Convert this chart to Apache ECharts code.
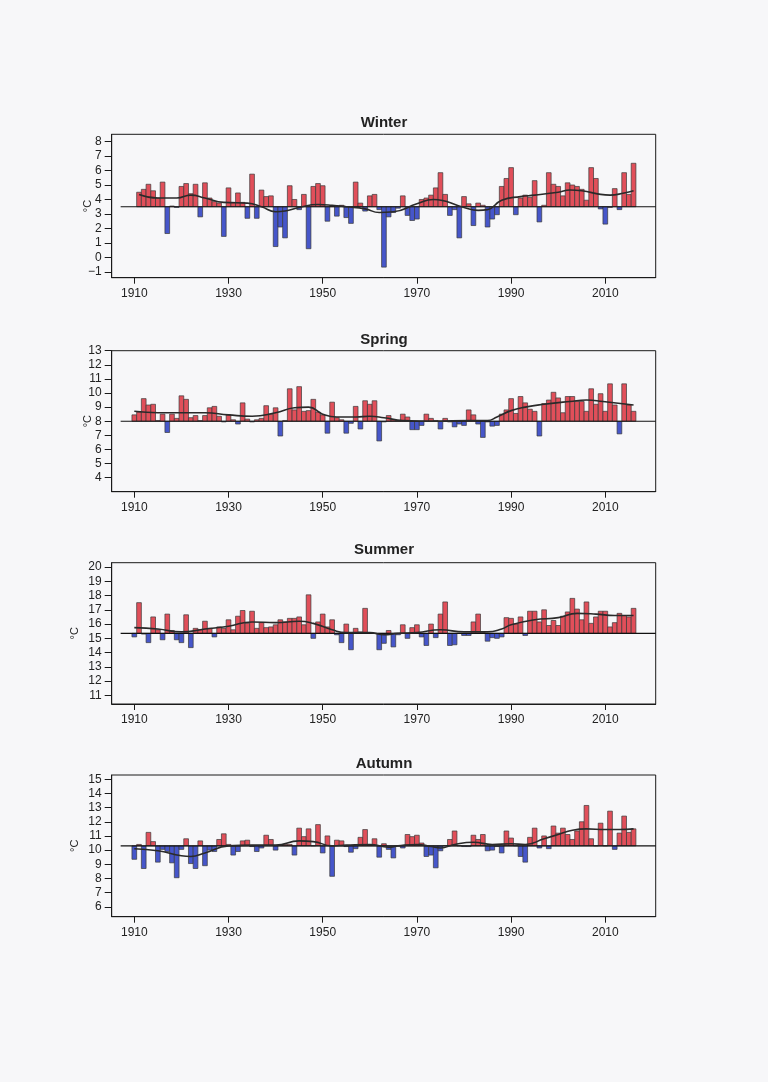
<!DOCTYPE html>
<html><head><meta charset="utf-8">
<script src="https://cdn.jsdelivr.net/npm/echarts@6/dist/echarts.min.js"></script>
<style>html,body{margin:0;padding:0;background:#f7f7f9;} #c{width:768px;height:1082px;}</style>
</head><body><div id="c"></div>
<script>
const seasonNames = ['Winter', 'Spring', 'Summer', 'Autumn'];
const winterStartYear = 1911;
const otherStartYear = 1910;
const xTickLabels = [1910, 1930, 1950, 1970, 1990, 2010];

const winterValues = [
  4.5, 4.7, 5.05, 4.6, 4.1, 5.2, 1.65, 3.55, 3.45, 4.9,
  5.1, 4.4, 5.05, 2.8, 5.15, 4.1, 3.85, 3.75, 1.45, 4.8,
  3.8, 4.45, 3.8, 2.7, 5.75, 2.7, 4.65, 4.2, 4.25, 0.75,
  2.1, 1.35, 4.95, 4.0, 3.3, 4.35, 0.6, 4.9, 5.1, 4.95,
  2.5, 3.55, 2.85, 3.6, 2.75, 2.35, 5.2, 3.75, 3.2, 4.25,
  4.35, 3.3, -0.67, 2.8, 3.1, 3.4, 4.25, 2.9, 2.55, 2.65,
  4.0, 4.1, 4.3, 4.8, 5.85, 4.35, 2.9, 3.3, 1.35, 4.2,
  3.7, 2.2, 3.75, 3.6, 2.1, 2.65, 2.95, 4.9, 5.45, 6.2,
  2.95, 4.1, 4.3, 4.15, 5.3, 2.45, 3.6, 5.85, 5.05, 4.9,
  4.25, 5.15, 5.0, 4.9, 4.7, 3.95, 6.2, 5.45, 3.35, 2.3,
  3.45, 4.75, 3.3, 5.85, 4.35, 6.5
];
const springValues = [
  8.45, 8.65, 9.6, 9.15, 9.2, 8.05, 8.5, 7.2, 8.5, 8.2,
  9.8, 9.55, 8.25, 8.4, 8.05, 8.4, 8.95, 9.05, 8.35, 7.95,
  8.45, 8.1, 7.8, 9.3, 8.15, 7.95, 8.1, 8.2, 9.1, 8.5,
  8.95, 6.95, 8.05, 10.3, 8.8, 10.45, 8.7, 8.75, 9.55, 8.65,
  8.45, 7.15, 9.35, 8.25, 8.1, 7.15, 7.85, 9.05, 7.45, 9.45,
  9.2, 9.45, 6.6, 7.95, 8.4, 8.1, 8.05, 8.5, 8.3, 7.4,
  7.4, 7.7, 8.5, 8.2, 8.05, 7.45, 8.2, 7.95, 7.6, 7.8,
  7.7, 8.8, 8.45, 7.8, 6.85, 7.95, 7.65, 7.7, 8.5, 8.8,
  9.6, 8.55, 9.75, 9.3, 8.85, 8.7, 6.95, 9.25, 9.5, 10.05,
  9.65, 8.6, 9.75, 9.75, 9.4, 9.4, 8.7, 10.3, 9.2, 9.95,
  8.7, 10.65, 9.15, 7.1, 10.65, 9.15, 8.7
];
const summerValues = [
  15.1, 17.5, 15.3, 14.7, 16.5, 15.6, 14.9, 16.7, 15.55, 14.9,
  14.7, 16.65, 14.35, 15.7, 15.6, 16.2, 15.7, 15.1, 15.8, 15.7,
  16.3, 15.6, 16.55, 16.95, 16.05, 16.9, 15.7, 16.1, 15.75, 15.8,
  15.95, 16.3, 16.15, 16.4, 16.4, 16.5, 15.95, 18.05, 15.0, 16.15,
  16.7, 15.8, 16.3, 15.25, 14.7, 16.0, 14.2, 15.7, 15.45, 17.1,
  15.4, 15.35, 14.2, 14.65, 15.55, 14.4, 15.25, 15.95, 15.0, 15.75,
  15.95, 15.1, 14.5, 16.0, 15.05, 16.7, 17.55, 14.5, 14.55, 15.35,
  15.2, 15.2, 16.15, 16.7, 15.4, 14.8, 15.05, 15.0, 15.1, 16.45,
  16.4, 16.0, 16.5, 15.2, 16.9, 16.9, 16.15, 17.0, 15.9, 16.25,
  15.9, 16.55, 16.85, 17.8, 17.05, 16.3, 17.55, 16.05, 16.5, 16.9,
  16.9, 15.8, 16.1, 16.75, 16.6, 16.5, 17.1
];
const autumnValues = [
  9.35, 10.4, 8.7, 11.25, 10.6, 9.15, 10.05, 9.9, 9.1, 8.05,
  10.05, 10.8, 9.05, 8.7, 10.65, 8.9, 10.0, 9.9, 10.75, 11.15,
  10.4, 9.65, 9.9, 10.65, 10.7, 10.25, 9.9, 10.15, 11.05, 10.75,
  10.0, 10.35, 10.4, 10.4, 9.65, 11.55, 10.95, 11.5, 10.3, 11.8,
  9.8, 11.0, 8.15, 10.7, 10.65, 10.25, 9.85, 10.1, 10.9, 11.45,
  10.35, 10.8, 9.5, 10.45, 10.05, 9.45, 10.3, 10.15, 11.1, 10.95,
  11.05, 10.5, 9.55, 9.65, 8.75, 9.95, 10.3, 10.75, 11.35, 10.3,
  10.25, 10.25, 11.05, 10.75, 11.1, 9.95, 10.0, 10.25, 9.8, 11.35,
  10.85, 10.3, 9.55, 9.15, 10.9, 11.55, 10.15, 11.0, 10.1, 11.7,
  11.2, 11.55, 11.1, 10.75, 11.35, 12.0, 13.15, 10.8, 10.3, 11.9,
  10.3, 12.75, 10.05, 11.2, 12.4, 11.25, 11.5
];

const baselineValues = [3.5, 8.0, 15.35, 10.3];

const winterSmooth = [[1911,4.35],[1915,4.1],[1919,4.1],[1922,4.3],[1925,4.1],[1929,3.8],[1934,3.75],[1937,3.5],[1940,3.15],[1942,3.2],[1945,3.45],[1949,3.65],[1952,3.6],[1955,3.5],[1959,3.35],[1962,3.1],[1965,3.15],[1970,3.7],[1973.5,4.0],[1980,3.45],[1983,3.25],[1985,3.3],[1988,3.95],[1992,4.2],[1995,4.3],[2000,4.5],[2002.5,4.65],[2005,4.6],[2009,4.35],[2011,4.3],[2014,4.45],[2016,4.6]];
const springSmooth = [[1910,8.7],[1915,8.6],[1920,8.6],[1925,8.6],[1930,8.45],[1935,8.35],[1940,8.6],[1944,8.95],[1947,9.0],[1950,8.5],[1953,8.3],[1957,8.3],[1960,8.35],[1963,8.25],[1967,8.05],[1974,8.0],[1981,8.05],[1985,8.05],[1987,8.3],[1990,8.75],[1993,9.0],[1997,9.2],[2002.5,9.4],[2006,9.5],[2009.5,9.4],[2016,9.15]];
const summerSmooth = [[1910,15.75],[1915,15.65],[1920,15.45],[1925,15.65],[1930,15.85],[1935,16.15],[1940,16.1],[1945,16.2],[1948,16.05],[1952,15.6],[1955,15.4],[1960,15.4],[1963,15.25],[1966,15.35],[1970,15.4],[1975,15.6],[1980,15.45],[1985,15.45],[1988,15.65],[1990,15.95],[1995,16.3],[2000,16.45],[2004,16.75],[2008,16.7],[2012,16.6],[2016,16.6]];
const autumnSmooth = [[1910,10.1],[1915,9.95],[1920,9.6],[1922,9.55],[1925,9.8],[1930,10.3],[1935,10.35],[1940,10.35],[1945,10.65],[1948,10.6],[1952,10.3],[1955,10.35],[1960,10.4],[1964,10.2],[1966,10.3],[1970,10.4],[1973,10.25],[1975,10.15],[1978,10.4],[1982,10.55],[1986,10.4],[1990,10.45],[1993,10.4],[1997,10.8],[2000,11.1],[2003,11.4],[2006,11.5],[2010,11.45],[2013,11.45],[2016,11.5]];

const winterYTicks = [-1, 0, 1, 2, 3, 4, 5, 6, 7, 8];
const springYTicks = [4, 5, 6, 7, 8, 9, 10, 11, 12, 13];
const summerYTicks = [11, 12, 13, 14, 15, 16, 17, 18, 19, 20];
const autumnYTicks = [6, 7, 8, 9, 10, 11, 12, 13, 14, 15];

// layout (not data)
const panels = [
  {vals: winterValues, start: winterStartYear, smooth: winterSmooth, ticks: winterYTicks, ymin: -1.4, ymax: 8.5, top: 134.3, height: 143.4, titleTop: 110, nameGap: 18},
  {vals: springValues, start: otherStartYear, smooth: springSmooth, ticks: springYTicks, ymin: 3.0, ymax: 13.0, top: 350.7, height: 141, titleTop: 327, nameGap: 18},
  {vals: summerValues, start: otherStartYear, smooth: summerSmooth, ticks: summerYTicks, ymin: 10.4, ymax: 20.3, top: 562.7, height: 141.3, titleTop: 537.5, nameGap: 31},
  {vals: autumnValues, start: otherStartYear, smooth: autumnSmooth, ticks: autumnYTicks, ymin: 5.3, ymax: 15.3, top: 775, height: 141.7, titleTop: 751, nameGap: 31}
];
const XMIN = 1905.2, XMAX = 2020.7, BASESTART = 1907.1;
const RED = '#e14f5a', BLUE = '#4656ca', EDGE = '#3a3a3a', INK = '#222';
const FONT = '"Liberation Sans", Arial, sans-serif';

const grids = [], xAxes = [], yAxes = [], series = [], titles = [];
panels.forEach((p, i) => {
  const base = baselineValues[i];
  grids.push({left: 111.7, right: 112.3, top: p.top, height: p.height, show: true, borderColor: '#1a1a1a', borderWidth: 1, backgroundColor: 'transparent'});
  xAxes.push({type: 'value', gridIndex: i, min: XMIN, max: XMAX, splitLine: {show: false},
    axisLine: {show: true, onZero: false, lineStyle: {color: '#1a1a1a', width: 1}},
    axisTick: {show: true, length: 6, customValues: xTickLabels, lineStyle: {color: '#1a1a1a'}},
    axisLabel: {customValues: xTickLabels, margin: 10, fontSize: 12, color: INK, fontFamily: FONT, formatter: v => String(v)}});
  yAxes.push({type: 'value', gridIndex: i, min: p.ymin, max: p.ymax, splitLine: {show: false},
    name: '°C', nameLocation: 'middle', nameGap: p.nameGap, nameRotate: 90, nameMoveOverlap: false,
    nameTextStyle: {fontSize: 11, color: INK, fontFamily: FONT},
    axisLine: {show: true, onZero: false, lineStyle: {color: '#1a1a1a', width: 1}},
    axisTick: {show: true, length: 7, customValues: p.ticks, lineStyle: {color: '#1a1a1a'}},
    axisLabel: {customValues: p.ticks, margin: 10, fontSize: 12, color: INK, fontFamily: FONT, formatter: v => v < 0 ? '\u2212' + Math.abs(v) : String(v)}});
  titles.push({text: seasonNames[i], left: 'center', top: p.titleTop, textStyle: {fontSize: 15, fontWeight: 'bold', color: INK, fontFamily: FONT}});
  series.push({
    type: 'custom', xAxisIndex: i, yAxisIndex: i, z: 2,
    data: p.vals.map((v, k) => [p.start + k, v]),
    encode: {x: 0, y: 1},
    renderItem: (params, api) => {
      const x = api.value(0), v = api.value(1);
      const a = api.coord([x - 0.5, base]);
      const b = api.coord([x + 0.5, v]);
      return {type: 'rect', shape: {x: a[0], y: Math.min(a[1], b[1]), width: b[0] - a[0], height: Math.abs(b[1] - a[1])},
        style: {fill: v >= base ? RED : BLUE, stroke: EDGE, lineWidth: 0.7}};
    }
  });
  series.push({type: 'line', xAxisIndex: i, yAxisIndex: i, z: 3, symbol: 'none', silent: true,
    data: [[BASESTART, base], [XMAX, base]], lineStyle: {color: '#111', width: 1.1}});
  series.push({type: 'line', xAxisIndex: i, yAxisIndex: i, z: 4, symbol: 'none', smooth: 0.5, silent: true,
    data: p.smooth, lineStyle: {color: '#2a2a2a', width: 1.6}});
});

const chart = echarts.init(document.getElementById('c'), null, {renderer: 'canvas'});
chart.setOption({backgroundColor: '#f7f7f9', animation: false, title: titles, grid: grids, xAxis: xAxes, yAxis: yAxes, series: series});
</script></body></html>
